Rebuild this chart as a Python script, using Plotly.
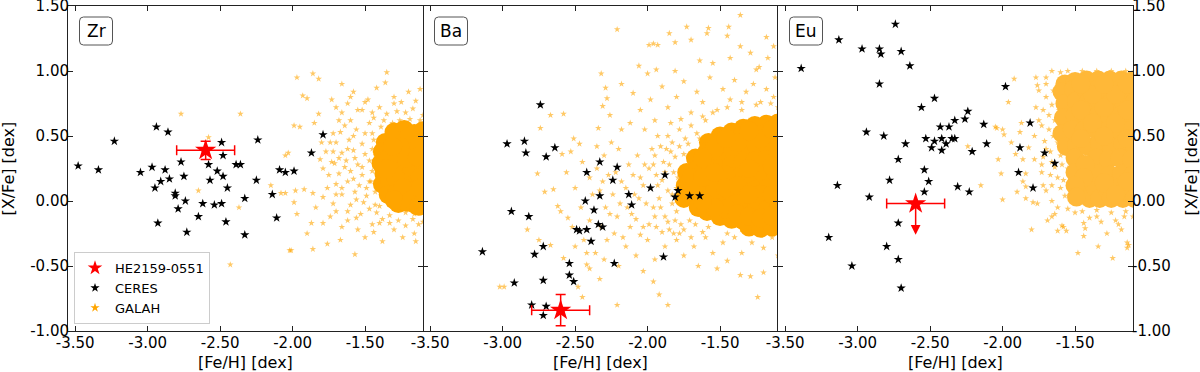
import plotly.graph_objects as go

# ---- ticks ----
x_tick_vals = [-3.5, -3.0, -2.5, -2.0, -1.5]
x_tick_text = ['-3.50', '-3.00', '-2.50', '-2.00', '-1.50']
y_tick_vals = [-1.0, -0.5, 0.0, 0.5, 1.0, 1.5]
y_tick_text = ['-1.00', '-0.50', '0.00', '0.50', '1.00', '1.50']

elements = ['Zr', 'Ba', 'Eu']

# ---- HE2159-0551 ----
he_feh = [-2.60, -2.60, -2.60]
he_xfe = [0.39, -0.84, -0.02]
he_feh_err = [0.20, 0.20, 0.20]
he_xfe_err = [0.07, 0.12, 0.24]
he_upper_limit = [False, False, True]

# ---- CERES ----
ceres_zr_feh = [-3.48, -3.34, -3.23, -3.05, -2.97, -2.94, -2.86, -2.88, -2.91, -2.95,
                -2.85, -2.77, -2.75, -2.81, -2.81, -2.74, -2.79, -2.93, -2.73, -2.65,
                -2.62, -2.58, -2.57, -2.54, -2.52, -2.49, -2.48, -2.48, -2.49, -2.45,
                -2.46, -2.39, -2.36, -2.33, -2.33, -2.24, -2.25, -2.14, -2.11, -2.09,
                -2.05, -1.99, -1.87, -1.79]
ceres_zr_xfe = [0.27, 0.24, 0.46, 0.22, 0.26, 0.57, 0.53, 0.24, 0.15, 0.10,
                0.17, 0.30, 0.19, 0.06, 0.04, 0.00, -0.06, -0.17, -0.24, -0.12,
                -0.02, 0.28, 0.16, -0.03, 0.23, 0.45, 0.35, 0.19, -0.02, 0.10,
                -0.16, 0.28, 0.28, 0.02, -0.26, 0.47, 0.16, 0.05, -0.13, 0.24,
                0.22, 0.23, 0.37, 0.51]

ceres_ba_feh = [-2.74, -2.97, -2.85, -2.84, -2.70, -2.64, -2.33, -2.42, -2.21, -2.24,
                -2.43, -2.33, -2.37, -2.94, -2.82, -2.49, -2.47, -2.42, -2.34, -2.31,
                -2.39, -3.14, -2.78, -2.72, -2.54, -2.23, -2.54, -2.51, -2.92, -2.72,
                -2.80, -2.70, -2.72, -2.13, -2.11, -1.98, -1.88, -1.79, -1.81, -1.71,
                -1.64, -1.89]
ceres_ba_xfe = [0.74, 0.44, 0.46, 0.37, 0.34, 0.41, 0.30, 0.22, 0.26, 0.16,
                0.00, 0.04, -0.07, -0.08, -0.12, -0.22, -0.23, -0.22, -0.18, -0.20,
                -0.31, -0.39, -0.41, -0.35, -0.48, -0.48, -0.57, -0.62, -0.63, -0.61,
                -0.80, -0.81, -0.88, 0.05, -0.03, 0.10, 0.20, 0.08, 0.03, 0.04,
                0.04, -0.43]

ceres_eu_feh = [-3.39, -3.13, -2.97, -2.85, -2.84, -2.74, -2.70, -2.64, -2.85, -2.47,
                -2.56, -2.94, -2.82, -2.67, -2.53, -2.49, -2.47, -2.43, -2.42, -2.42,
                -2.39, -2.37, -2.35, -2.33, -2.33, -2.26, -2.24, -2.13, -2.11, -2.21,
                -1.98, -1.88, -1.89, -1.81, -1.79, -1.71, -1.64, -2.72, -2.78, -2.54,
                -2.51, -2.54, -2.31, -2.23, -3.14, -2.92, -2.72, -3.20, -2.80, -2.72,
                -3.04, -2.70]
ceres_eu_xfe = [1.02, 1.24, 1.17, 1.17, 1.13, 1.36, 1.15, 1.04, 0.90, 0.79,
                0.72, 0.53, 0.50, 0.44, 0.48, 0.41, 0.46, 0.57, 0.48, 0.39,
                0.44, 0.57, 0.48, 0.48, 0.62, 0.63, 0.69, 0.59, 0.44, 0.38,
                0.88, 0.41, 0.22, 0.60, 0.10, 0.37, 0.29, 0.32, 0.16, 0.24,
                0.15, 0.07, 0.11, 0.07, 0.12, 0.03, -0.17, -0.28, -0.35, -0.45,
                -0.50, -0.67]

# ---- GALAH (feh, xfe): scattered stars and the saturated core ----
galah_zr_sparse = [
    (-2.77, 0.67), (-2.36, 0.67), (-2.58, 0.49), (-2.65, 0.08), (-2.37, -0.05), (-2.43, -0.49),
    (-2.15, 0.12), (-2.05, 0.06), (-2.02, -0.38), (-1.99, 0.58), (-2.05, 0.35), (-1.86, 0.98),
    (-1.97, 0.95), (-1.82, 0.94), (-1.66, 0.90), (-1.35, 0.99), (-1.36, 0.91), (-1.93, 0.81),
    (-1.90, 0.79), (-1.73, 0.78), (-1.58, 0.84), (-1.42, 0.87), (-1.82, 0.67), (-1.95, 0.57),
    (-1.85, 0.60), (-2.03, 0.37), (-1.81, 0.32), (-1.79, 0.25), (-1.75, 0.20), (-2.08, 0.06),
    (-1.98, 0.08), (-1.92, 0.09), (-1.86, 0.06), (-1.99, -0.01), (-1.79, 0.03), (-1.84, -0.05),
    (-1.97, -0.10), (-1.87, -0.17), (-1.79, -0.17), (-1.90, -0.25), (-1.76, -0.33), (-1.86, -0.37),
    (-2.01, -0.38), (-1.57, -0.41), (-1.67, -0.30), (-1.38, -0.31), (-1.15, -0.31), (-1.16, -0.25),
    (-1.74, -0.12), (-1.66, -0.20), (-1.70, 0.72), (-1.62, 0.75), (-1.55, 0.70), (-1.48, 0.78),
    (-1.30, 0.80), (-1.20, 0.84), (-1.12, 0.86), (-1.25, 0.76), (-1.68, 0.62), (-1.74, 0.45),
    (-1.72, 0.52), (-1.77, 0.38), (-1.73, 0.30), (-1.76, 0.10), (-1.72, -0.02), (-1.70, -0.08),
    (-1.62, -0.15), (-1.55, -0.22), (-1.50, -0.28), (-1.44, -0.24), (-1.30, -0.22), (-1.24, -0.28),
    (-1.40, -0.17), (-1.60, 0.80), (-1.45, 0.68), (-1.80, 0.45),
    (-1.52, 0.70), (-1.40, 0.72), (-1.28, 0.69), (-1.17, 0.71), (-1.10, 0.66), (-1.60, 0.62),
    (-1.47, 0.60), (-1.67, 0.53), (-1.56, 0.55), (-1.70, 0.45), (-1.61, 0.47), (-1.52, 0.44),
    (-1.66, 0.37), (-1.58, 0.39), (-1.50, 0.36), (-1.71, 0.29), (-1.63, 0.31), (-1.55, 0.28),
    (-1.47, 0.31), (-1.68, 0.21), (-1.60, 0.23), (-1.52, 0.20), (-1.70, 0.13), (-1.62, 0.15),
    (-1.54, 0.12), (-1.47, 0.15), (-1.66, 0.05), (-1.57, 0.07), (-1.49, 0.04), (-1.60, -0.03),
    (-1.51, -0.01), (-1.43, -0.03), (-1.53, -0.10), (-1.42, -0.09), (-1.33, -0.11), (-1.45, -0.18),
    (-1.33, -0.17), (-1.22, -0.19), (-1.13, -0.18), (-1.64, 0.58), (-1.58, 0.50), (-1.50, 0.52),
    (-1.45, 0.40), (-1.62, 0.40), (-1.68, 0.33), (-1.57, 0.33), (-1.52, 0.26), (-1.64, 0.26),
    (-1.58, 0.17), (-1.49, 0.10), (-1.66, 0.10), (-1.56, 0.01), (-1.47, -0.06), (-1.62, -0.08),
    (-1.38, -0.14), (-1.27, -0.15), (-1.17, -0.14), (-1.10, -0.16), (-1.35, 0.67), (-1.22, 0.68),
    (-1.44, 0.64), (-1.30, 0.75), (-1.15, 0.77), (-1.50, 0.76), (-1.66, 0.68), (-1.72, 0.38),
    (-1.70, 0.05), (-1.56, -0.13), (-1.45, 0.52), (-1.44, 0.47), (-1.43, 0.37), (-1.45, 0.23),
    (-1.43, 0.07), (-1.37, 0.62), (-1.46, 0.15), (-1.40, -0.04), (-1.39, 0.57),
    (-1.26, 0.62), (-1.19, 0.63), (-1.12, 0.62), (-1.31, 0.60), (-1.22, -0.09), (-1.16, -0.10),
    (-1.10, -0.09),
]
galah_zr_core = [
    (-1.30, 0.53), (-1.23, 0.55), (-1.16, 0.52), (-1.10, 0.54),
    (-1.36, 0.45), (-1.29, 0.47), (-1.22, 0.44), (-1.16, 0.47), (-1.10, 0.45),
    (-1.38, 0.38), (-1.34, 0.37), (-1.27, 0.39), (-1.21, 0.36), (-1.15, 0.39), (-1.09, 0.37),
    (-1.39, 0.29), (-1.32, 0.31), (-1.25, 0.28), (-1.19, 0.31), (-1.13, 0.29),
    (-1.37, 0.21), (-1.31, 0.23), (-1.24, 0.20), (-1.18, 0.23), (-1.11, 0.21),
    (-1.38, 0.13), (-1.33, 0.15), (-1.27, 0.12), (-1.20, 0.15), (-1.14, 0.13), (-1.09, 0.15),
    (-1.34, 0.05), (-1.28, 0.07), (-1.22, 0.04), (-1.16, 0.07), (-1.10, 0.05),
    (-1.27, -0.02), (-1.21, -0.01), (-1.15, -0.03), (-1.09, -0.01),
    (-1.20, 0.49), (-1.13, 0.42), (-1.26, 0.42), (-1.33, 0.34), (-1.18, 0.26),
    (-1.29, 0.18), (-1.12, 0.18), (-1.24, 0.10), (-1.30, 0.01), (-1.18, 0.01), (-1.13, -0.04),
    (-1.35, 0.25), (-1.21, 0.33), (-1.14, 0.34), (-1.31, 0.42), (-1.12, 0.10),
]

galah_ba_sparse = [
    (-2.21, 1.32), (-2.32, 0.98), (-2.29, 0.87), (-2.28, 0.79), (-2.31, 0.73), (-2.18, 0.90),
    (-2.10, 0.83), (-2.06, 1.04), (-2.67, 0.66), (-2.58, 0.67), (-2.74, 0.56), (-2.26, 0.66),
    (-2.34, 0.56), (-2.51, 0.48), (-2.47, 0.44), (-2.59, 0.36), (-2.53, 0.38), (-2.76, 0.21),
    (-2.71, 0.07), (-2.65, 0.09), (-2.62, -0.04), (-2.55, -0.13), (-2.60, -0.08), (-2.83, -0.22),
    (-2.75, -0.30), (-2.67, -0.34), (-2.58, -0.44), (-2.48, -0.66), (-2.99, -0.66), (-2.45, -0.74),
    (-2.21, -0.80), (-2.33, -0.60), (-2.42, -0.49), (-1.85, 1.29), (-1.36, 1.43), (-1.44, 1.34),
    (-1.59, 1.29), (-1.70, 1.24), (-1.96, 1.21), (-1.18, 1.26), (-1.13, 1.19), (-1.29, 1.14),
    (-2.00, 0.98), (-1.64, 1.08), (-1.23, 1.03), (-3.02, -0.66), (-1.92, -0.72), (-1.86, -0.80),
    (-1.24, -0.74), (-1.36, -0.57), (-1.29, -0.58), (-1.58, 1.33), (-1.73, 1.34), (-1.93, 1.20),
    (-1.99, 1.20), (-1.81, 1.22), (-1.45, 1.27), (-1.36, 1.19), (-1.94, 1.01), (-1.81, 1.00),
    (-1.43, 1.10), (-1.25, 1.01), (-1.17, 1.10), (-1.55, 1.06), (-1.12, 0.95), (-1.96, -0.62),
    (-2.03, -0.54), (-1.45, -0.46), (-1.20, -0.55),
    (-2.05, 0.70), (-1.98, 0.78), (-1.90, 0.88), (-1.86, 0.72), (-1.80, 0.80), (-1.75, 0.92),
    (-1.70, 0.68), (-1.66, 0.84), (-1.62, 0.76), (-1.57, 0.95), (-1.52, 0.70), (-1.48, 0.86),
    (-1.43, 0.78), (-1.40, 0.93), (-1.35, 0.70), (-1.32, 0.84), (-1.27, 0.90), (-1.22, 0.76),
    (-1.18, 0.86), (-1.13, 0.80), (-1.10, 0.72), (-1.95, 0.62), (-1.84, 0.60), (-1.77, 0.63),
    (-2.12, 0.60), (-2.18, 0.55), (-2.02, 0.55), (-1.60, 0.62), (-1.30, 0.62),
    (-2.45, 0.30), (-2.40, 0.18), (-2.50, 0.10), (-2.38, 0.05), (-2.46, -0.05), (-2.52, -0.20),
    (-2.44, -0.30), (-2.36, -0.40), (-2.30, 0.35), (-2.28, -0.30), (-2.50, -0.35), (-2.40, -0.52),
    (-2.30, -0.45), (-2.56, 0.22), (-2.35, 0.42), (-2.25, 0.45), (-2.20, 0.40),
    (-2.15, -0.35), (-2.08, -0.42), (-2.00, -0.30), (-1.95, -0.45), (-1.88, -0.35), (-1.80, -0.30),
    (-1.75, -0.42), (-1.68, -0.35), (-1.60, -0.28), (-1.55, -0.40), (-1.48, -0.32), (-1.40, -0.28),
    (-1.35, -0.40), (-1.28, -0.32), (-1.20, -0.36), (-1.14, -0.28), (-1.10, -0.42), (-2.20, -0.50),
    (-1.65, -0.50), (-1.52, -0.52),
    (-2.31, 0.15), (-2.29, -0.05), (-2.32, -0.20), (-2.22, 0.22), (-2.24, 0.05), (-2.21, -0.12),
    (-2.23, -0.25), (-2.13, 0.28), (-2.15, 0.10), (-2.14, -0.05), (-2.12, -0.20), (-2.07, 0.35),
    (-2.05, 0.18), (-2.06, 0.02), (-2.08, -0.14), (-2.05, -0.26), (-1.97, 0.40), (-1.99, 0.25),
    (-1.98, 0.10), (-1.96, -0.05), (-1.99, -0.18), (-1.91, 0.42), (-1.90, -0.24), (-1.83, 0.45),
    (-1.74, 0.48), (-1.75, -0.22), (-1.66, 0.52),
    (-2.33, 0.08), (-2.27, 0.20), (-2.26, -0.10), (-2.18, 0.15), (-2.19, -0.02), (-2.17, -0.28),
    (-2.10, 0.20), (-2.09, 0.05), (-2.11, -0.10), (-2.02, 0.28), (-2.03, 0.12), (-2.01, -0.02),
    (-2.03, -0.20), (-1.95, 0.35), (-1.95, -0.12), (-1.93, 0.50), (-1.86, 0.50), (-1.78, 0.55),
    (-1.70, 0.58), (-1.62, 0.65), (-1.55, 0.68), (-1.85, -0.22), (-1.78, -0.25), (-1.70, -0.28),
    (-1.62, -0.24), (-1.45, -0.25), (-1.35, -0.22), (-1.25, -0.24), (-1.15, -0.20), (-1.45, 0.72),
    (-1.35, 0.76), (-1.25, 0.74), (-1.15, 0.75), (-2.40, -0.15), (-2.35, 0.25), (-2.42, -0.40),
    (-1.89, 0.30), (-1.90, 0.16), (-1.92, 0.02), (-1.88, -0.12), (-1.81, 0.34), (-1.82, 0.22),
    (-1.80, 0.10), (-1.83, -0.02), (-1.81, -0.15), (-1.86, 0.08), (-1.94, 0.20), (-1.75, 0.36),
    (-1.67, -0.18), (-1.93, 0.12), (-1.91, -0.05), (-1.88, 0.22), (-1.86, -0.16), (-1.84, 0.38),
    (-1.83, 0.05), (-1.80, -0.08), (-1.79, 0.18), (-1.78, 0.42), (-1.77, -0.18), (-1.96, 0.28),
    (-1.94, -0.20), (-1.87, 0.40), (-1.85, 0.28), (-1.82, -0.25), (-1.72, 0.44), (-1.64, 0.48),
    (-1.58, -0.20), (-1.71, -0.15),
]
galah_ba_core = [
    (-1.73, 0.22), (-1.74, 0.12), (-1.75, 0.02),
    (-1.67, 0.33), (-1.65, 0.25), (-1.66, 0.15), (-1.68, 0.04), (-1.65, -0.05),
    (-1.58, 0.45), (-1.59, 0.38), (-1.57, 0.30), (-1.58, 0.21), (-1.60, 0.10), (-1.57, -0.02),
    (-1.59, -0.08), (-1.50, 0.50), (-1.51, 0.44), (-1.49, 0.36), (-1.50, 0.25), (-1.52, 0.14),
    (-1.49, 0.03), (-1.51, -0.08), (-1.50, -0.12), (-1.42, 0.53), (-1.43, 0.47), (-1.41, 0.39),
    (-1.42, 0.28), (-1.44, 0.17), (-1.41, 0.06), (-1.43, -0.05), (-1.42, -0.14), (-1.34, 0.56),
    (-1.35, 0.50), (-1.33, 0.41), (-1.34, 0.30), (-1.36, 0.19), (-1.33, 0.08), (-1.35, -0.03),
    (-1.34, -0.15), (-1.26, 0.58), (-1.27, 0.52), (-1.25, 0.42), (-1.26, 0.31), (-1.28, 0.20),
    (-1.25, 0.09), (-1.27, -0.02), (-1.26, -0.14), (-1.18, 0.59), (-1.19, 0.52), (-1.17, 0.43),
    (-1.18, 0.32), (-1.20, 0.21), (-1.17, 0.10), (-1.19, -0.01), (-1.18, -0.13), (-1.10, 0.60),
    (-1.11, 0.52), (-1.09, 0.44), (-1.10, 0.33), (-1.12, 0.22), (-1.09, 0.11), (-1.11, 0.00),
    (-1.10, -0.12),
    (-1.54, 0.40), (-1.46, 0.20), (-1.38, 0.45), (-1.30, 0.25), (-1.22, 0.48), (-1.14, 0.27),
    (-1.46, 0.48), (-1.30, 0.54), (-1.14, 0.55), (-1.38, 0.02), (-1.22, 0.05), (-1.54, 0.08),
    (-1.62, 0.33), (-1.70, 0.18), (-1.70, 0.08), (-1.30, -0.20), (-1.22, -0.21), (-1.14, -0.20),
    (-1.34, -0.09), (-1.26, -0.08), (-1.18, -0.07), (-1.10, -0.06), (-1.46, -0.06), (-1.54, -0.05),
    (-1.38, -0.10), (-1.30, -0.12), (-1.22, -0.13), (-1.14, -0.12), (-1.62, 0.00),
    (-1.46, 0.10), (-1.38, 0.12), (-1.30, 0.05), (-1.14, 0.05), (-1.62, 0.18), (-1.54, 0.22),
]

galah_eu_sparse = [
    (-1.92, 0.94), (-1.77, 0.95), (-2.05, 0.57), (-2.00, 0.55), (-2.24, 0.42), (-2.03, 0.32),
    (-2.00, 0.01), (-1.84, 0.11), (-1.80, -0.22), (-1.76, -0.02), (-1.66, -0.12), (-1.58, -0.20),
    (-1.48, -0.40), (-1.24, -0.44), (-1.34, -0.35), (-1.13, -0.34), (-1.96, 0.76), (-1.76, 0.89),
    (-1.75, 0.85), (-1.87, 0.60), (-2.04, 0.56), (-1.99, 0.51), (-1.94, 0.45), (-1.88, 0.53),
    (-1.91, 0.36), (-2.01, 0.21), (-2.15, 0.12), (-1.86, 0.32), (-1.82, 0.41), (-1.78, 0.32),
    (-1.84, 0.21), (-1.86, 0.15), (-1.90, 0.07), (-1.84, 0.02), (-1.79, -0.01), (-1.72, 0.12),
    (-1.69, -0.15), (-1.64, -0.10), (-1.62, -0.23), (-1.59, -0.19), (-1.56, -0.23), (-1.44, -0.17),
    (-1.43, -0.21), (-1.44, -0.27), (-1.14, -0.36), (-1.14, -0.32), (-1.22, -0.15), (-1.32, -0.16),
    (-1.35, -0.12), (-1.16, -0.12), (-1.50, -0.09), (-1.18, -0.22), (-1.28, -0.25),
    (-1.70, 0.95), (-1.66, 1.00), (-1.60, 0.99), (-1.55, 1.00), (-1.45, 1.00), (-1.35, 1.00),
    (-1.25, 1.00), (-1.15, 1.00), (-1.70, 0.90), (-1.75, 0.62), (-1.78, 0.50), (-1.73, 0.22),
    (-1.70, 0.08), (-1.66, 0.00), (-1.62, -0.05), (-1.55, -0.06), (-1.45, -0.08), (-1.35, -0.07),
    (-1.25, -0.09), (-1.15, -0.08), (-1.10, -0.12), (-1.40, -0.13), (-1.20, -0.18),
    (-1.72, 0.70), (-1.73, 0.58), (-1.71, 0.46), (-1.72, 0.34), (-1.65, 0.85), (-1.66, 0.74),
    (-1.64, 0.62), (-1.65, 0.50), (-1.67, 0.38), (-1.64, 0.26), (-1.66, 0.12), (-1.57, 0.04),
    (-1.58, 0.16), (-1.59, 0.28), (-1.70, 0.80), (-1.68, 0.55), (-1.62, 0.45), (-1.66, 0.30),
    (-1.62, 0.18), (-1.70, 0.40), (-1.55, 0.25), (-1.60, 0.10), (-1.52, 0.00), (-1.62, 0.88),
    (-1.68, 0.66), (-1.73, 0.28), (-1.77, 0.72), (-1.61, 0.70), (-1.63, 0.55), (-1.60, 0.35),
    (-1.56, 0.80), (-1.67, 0.20), (-1.58, 0.60),
]
galah_eu_core = [
    (-1.57, 0.90), (-1.59, 0.84), (-1.57, 0.75), (-1.58, 0.64), (-1.59, 0.52), (-1.56, 0.42),
    (-1.50, 0.92), (-1.51, 0.86), (-1.49, 0.77), (-1.50, 0.66), (-1.52, 0.55), (-1.49, 0.43),
    (-1.50, 0.33), (-1.42, 0.93), (-1.43, 0.86), (-1.41, 0.76), (-1.42, 0.65), (-1.44, 0.54),
    (-1.41, 0.42), (-1.42, 0.09), (-1.40, 0.02), (-1.34, 0.93), (-1.35, 0.86), (-1.33, 0.77),
    (-1.34, 0.66), (-1.36, 0.55), (-1.33, 0.44), (-1.35, 0.33), (-1.34, 0.21), (-1.36, 0.10),
    (-1.33, 0.02), (-1.26, 0.93), (-1.27, 0.86), (-1.25, 0.76), (-1.26, 0.65), (-1.28, 0.54),
    (-1.25, 0.43), (-1.27, 0.32), (-1.26, 0.20), (-1.28, 0.09), (-1.25, 0.02), (-1.18, 0.93),
    (-1.19, 0.86), (-1.17, 0.77), (-1.18, 0.66), (-1.20, 0.55), (-1.17, 0.44), (-1.19, 0.33),
    (-1.18, 0.21), (-1.20, 0.10), (-1.17, 0.02), (-1.10, 0.93), (-1.11, 0.86), (-1.09, 0.76),
    (-1.10, 0.65), (-1.12, 0.54), (-1.09, 0.43), (-1.11, 0.32), (-1.10, 0.20), (-1.12, 0.09),
    (-1.09, 0.02),
    (-1.46, 0.70), (-1.38, 0.60), (-1.30, 0.72), (-1.22, 0.60), (-1.14, 0.70), (-1.46, 0.48),
    (-1.30, 0.50), (-1.14, 0.48), (-1.38, 0.82), (-1.22, 0.82), (-1.30, 0.14), (-1.14, 0.15),
    (-1.22, 0.05), (-1.46, 0.90), (-1.30, 0.90), (-1.14, 0.90),
    (-1.50, 0.22), (-1.43, 0.28), (-1.44, 0.18), (-1.50, 0.12), (-1.49, 0.03),
]

ceres_feh = [ceres_zr_feh, ceres_ba_feh, ceres_eu_feh]
ceres_xfe = [ceres_zr_xfe, ceres_ba_xfe, ceres_eu_xfe]
galah_sparse = [galah_zr_sparse, galah_ba_sparse, galah_eu_sparse]
galah_core = [galah_zr_core, galah_ba_core, galah_eu_core]

FONT = 'DejaVu Sans'
ORANGE = '#FFA500'
RED = '#FF0000'
AXIS_COLOR = '#222222'
X_RANGE = [-3.55, -1.10]
Y_RANGE = [-1.0, 1.5]
# Eu cloud is less saturated than the Zr / Ba ones
CORE_COLOR = [ORANGE, ORANGE, '#FFB838']

MARGIN = dict(l=68, r=67, t=6, b=41)
PLOT_W = 1200 - MARGIN['l'] - MARGIN['r']
PLOT_H = 372 - MARGIN['t'] - MARGIN['b']


def rounded_box(left_px, top_px, w, h, r=4):
    """Rounded rectangle path in paper coordinates (pixel offsets from the plot corner)."""
    x0, x1 = left_px / PLOT_W, (left_px + w) / PLOT_W
    yt, yb = 1 - top_px / PLOT_H, 1 - (top_px + h) / PLOT_H
    rx, ry = r / PLOT_W, r / PLOT_H
    return (f"M {x0 + rx},{yt} L {x1 - rx},{yt} Q {x1},{yt} {x1},{yt - ry} "
            f"L {x1},{yb + ry} Q {x1},{yb} {x1 - rx},{yb} L {x0 + rx},{yb} "
            f"Q {x0},{yb} {x0},{yb + ry} L {x0},{yt - ry} Q {x0},{yt} {x0 + rx},{yt} Z")


fig = go.Figure()

for i, element in enumerate(elements):
    xa = 'x' if i == 0 else f'x{i + 1}'
    ya = 'y' if i == 0 else f'y{i + 1}'

    sp_x, sp_y = zip(*galah_sparse[i])
    fig.add_trace(go.Scatter(
        x=sp_x, y=sp_y, xaxis=xa, yaxis=ya, mode='markers',
        marker=dict(symbol='star', size=5, color=ORANGE, opacity=0.6, line_width=0),
        showlegend=False, hoverinfo='skip'
    ))
    core_x, core_y = zip(*galah_core[i])
    fig.add_trace(go.Scatter(
        x=core_x, y=core_y, xaxis=xa, yaxis=ya, mode='markers',
        marker=dict(symbol='circle', size=19, color=CORE_COLOR[i], opacity=1, line_width=0),
        showlegend=False, hoverinfo='skip'
    ))
    fig.add_trace(go.Scatter(
        x=ceres_feh[i], y=ceres_xfe[i], xaxis=xa, yaxis=ya, mode='markers',
        marker=dict(symbol='star', size=7, color='black', line_width=0),
        showlegend=False
    ))

    error_y = None
    if not he_upper_limit[i]:
        error_y = dict(type='data', array=[he_xfe_err[i]], color=RED, thickness=1.5, width=5)
    fig.add_trace(go.Scatter(
        x=[he_feh[i]], y=[he_xfe[i]], xaxis=xa, yaxis=ya, mode='markers',
        marker=dict(symbol='star', size=16, color=RED, line_width=0),
        error_x=dict(type='data', array=[he_feh_err[i]], color=RED, thickness=1.5, width=5),
        error_y=error_y,
        showlegend=False
    ))
    if he_upper_limit[i]:
        fig.add_annotation(
            x=he_feh[i], y=he_xfe[i] - he_xfe_err[i], ax=he_feh[i], ay=he_xfe[i],
            xref=xa, yref=ya, axref=xa, ayref=ya, text='', showarrow=True,
            arrowhead=2, arrowsize=1.3, arrowwidth=1.5, arrowcolor=RED, standoff=0
        )

    # element label in a rounded box
    left = i * PLOT_W / 3 + 11.5
    fig.add_shape(type='path', path=rounded_box(left, 11, 33, 28), xref='paper', yref='paper',
                  line=dict(color='#555555', width=1), fillcolor='white', layer='above')
    fig.add_annotation(
        x=(left + 16.5) / PLOT_W, y=1 - 25 / PLOT_H, xref='paper', yref='paper',
        text=element, showarrow=False, xanchor='center', yanchor='middle',
        font=dict(family=FONT, size=17, color='black')
    )

    # x title under each panel
    fig.add_annotation(
        x=(i + 0.5) / 3, y=-31.5 / PLOT_H, xref='paper', yref='paper',
        text='[Fe/H] [dex]', showarrow=False, xanchor='center', yanchor='middle',
        font=dict(family=FONT, size=16, color='black')
    )

# y titles, left and right
for px in (8, 1191):
    fig.add_annotation(
        x=(px - MARGIN['l']) / PLOT_W, y=0.5, xref='paper', yref='paper',
        text='[X/Fe] [dex]', showarrow=False, textangle=-90,
        xanchor='center', yanchor='middle',
        font=dict(family=FONT, size=16, color='black')
    )

# legend-only entries
for name, color, size in [('HE2159-0551', RED, 11), ('CERES', 'black', 7), ('GALAH', ORANGE, 7)]:
    fig.add_trace(go.Scatter(
        x=[None], y=[None], mode='markers', name=name,
        marker=dict(symbol='star', size=size, color=color, line_width=0)
    ))

axis_common = dict(
    showline=True, linecolor=AXIS_COLOR, linewidth=1, mirror='ticks',
    ticks='inside', ticklen=5, tickwidth=1, tickcolor=AXIS_COLOR,
    showgrid=False, zeroline=False, automargin=False, ticklabeloverflow='allow',
    tickfont=dict(family=FONT, size=15, color='black'),
)

layout_axes = {}
for i in range(3):
    xkey = 'xaxis' if i == 0 else f'xaxis{i + 1}'
    ykey = 'yaxis' if i == 0 else f'yaxis{i + 1}'
    ya = 'y' if i == 0 else f'y{i + 1}'
    xa = 'x' if i == 0 else f'x{i + 1}'
    layout_axes[xkey] = dict(
        axis_common, domain=[i / 3, (i + 1) / 3], anchor=ya, range=X_RANGE,
        tickvals=x_tick_vals, ticktext=x_tick_text, ticklabelstandoff=-2,
    )
    layout_axes[ykey] = dict(
        axis_common, domain=[0, 1], anchor=xa, range=Y_RANGE,
        tickvals=y_tick_vals, ticktext=y_tick_text, ticklabelstandoff=-5,
        showticklabels=(i != 1),
        showline=(i != 1),   # middle panel: its edges are drawn by the neighbours
        side='right' if i == 2 else 'left',
    )

fig.update_layout(
    width=1200, height=372,
    paper_bgcolor='white', plot_bgcolor='white',
    margin=MARGIN,
    font=dict(family=FONT, color='black'),
    legend=dict(
        x=6 / PLOT_W, y=7 / PLOT_H, xanchor='left', yanchor='bottom',
        bgcolor='rgba(255,255,255,0.85)', bordercolor='#cccccc', borderwidth=1,
        font=dict(family=FONT, size=13, color='black'),
    ),
    **layout_axes
)

# the page body has a default 8px margin: remove it so the figure fills the window
fig.write_html("out.html", config={'displayModeBar': False},
               post_script="document.body.style.margin = '0';")
